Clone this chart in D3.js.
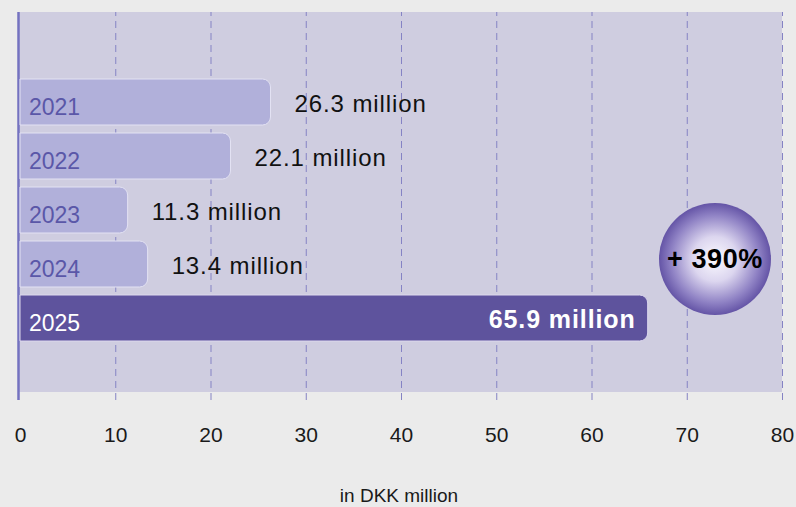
<!DOCTYPE html>
<html>
<head>
<meta charset="utf-8">
<script src="https://cdn.jsdelivr.net/npm/d3@7"></script>
<style>
  body { margin: 0; background: #ebebeb; }
  svg { display: block; font-family: "Liberation Sans", Arial, Helvetica, sans-serif; }
</style>
</head>
<body>
<div id="chart"></div>
<script>
// Chart data
const years = ['2021', '2022', '2023', '2024', '2025'];
const values = [26.3, 22.1, 11.3, 13.4, 65.9];
const valueLabels = ['26.3 million', '22.1 million', '11.3 million', '13.4 million', '65.9 million'];
const xTicks = [0, 10, 20, 30, 40, 50, 60, 70, 80];
const growthLabel = '+ 390%';
const axisTitle = 'in DKK million';

const width = 796;
const height = 507;
const panelTop = 12;
const panelBottom = 392;
const axisY = 400;

const svg = d3.select('#chart').append('svg')
    .attr('width', width)
    .attr('height', height);

const x = d3.scaleLinear().domain([0, 80]).range([20, 782]);
const y = d3.scaleBand().domain(years).range([75, 345])
    .paddingInner(8 / 54).paddingOuter(4 / 54);

// Radial gradient for the growth bubble
const defs = svg.append('defs');
const grad = defs.append('radialGradient').attr('id', 'bubble')
    .attr('cx', '50%').attr('cy', '50%').attr('r', '50%');
grad.append('stop').attr('offset', '0%').attr('stop-color', '#fbfaff');
grad.append('stop').attr('offset', '40%').attr('stop-color', '#dcd6ef');
grad.append('stop').attr('offset', '78%').attr('stop-color', '#9083c5');
grad.append('stop').attr('offset', '100%').attr('stop-color', '#6454a6');

// Plot panel
svg.append('rect')
    .attr('x', 18).attr('y', panelTop)
    .attr('width', x(80) - 18).attr('height', panelBottom - panelTop)
    .attr('fill', '#cfcde0');

// Axis + dashed grid
const axis = d3.axisBottom(x)
    .tickValues(xTicks)
    .tickSize(-(axisY - panelTop))
    .tickPadding(27)
    .tickFormat(d3.format('d'));

const axisG = svg.append('g')
    .attr('transform', `translate(0,${axisY})`)
    .call(axis);
axisG.select('.domain').remove();
axisG.selectAll('.tick line')
    .attr('stroke', '#8583c4')
    .attr('stroke-width', 1)
    .attr('stroke-dasharray', '7,5');
axisG.selectAll('.tick text')
    .attr('fill', '#1a1a1a')
    .style('font-size', '21px')
    .style('font-family', '"Liberation Sans", Arial, sans-serif');

// zero line is the solid left axis
axisG.selectAll('.tick').filter(d => d === 0).select('line')
    .attr('x1', -2).attr('x2', -2)
    .attr('stroke', '#7472c0')
    .attr('stroke-width', 2.5)
    .attr('stroke-dasharray', null);

// Bars, rounded on the right end only
function barPath(x0, y0, w, h, r) {
    const p = d3.path();
    p.moveTo(x0, y0);
    p.lineTo(x0 + w - r, y0);
    p.arcTo(x0 + w, y0, x0 + w, y0 + r, r);
    p.lineTo(x0 + w, y0 + h - r);
    p.arcTo(x0 + w, y0 + h, x0 + w - r, y0 + h, r);
    p.lineTo(x0, y0 + h);
    p.closePath();
    return p.toString();
}

const rows = years.map((yr, i) => ({ year: yr, value: values[i], label: valueLabels[i], last: i === years.length - 1 }));

const barG = svg.append('g');
barG.selectAll('path.bar')
    .data(rows)
    .enter().append('path')
    .attr('class', 'bar')
    .attr('d', d => barPath(x(0), y(d.year), x(d.value) - x(0), y.bandwidth(), 8))
    .attr('fill', d => d.last ? '#5e539d' : '#b1b0da')
    .attr('stroke', d => d.last ? '#ddd9ee' : '#e3e2f3')
    .attr('stroke-width', 1);

// Year labels inside bars
barG.selectAll('text.year')
    .data(rows)
    .enter().append('text')
    .attr('class', 'year')
    .attr('x', 29)
    .attr('y', d => y(d.year) + y.bandwidth() / 2 + 13)
    .attr('fill', d => d.last ? '#ffffff' : '#5a57a8')
    .style('font-size', '23px')
    .text(d => d.year);

// Value labels
barG.selectAll('text.value')
    .data(rows)
    .enter().append('text')
    .attr('class', 'value')
    .attr('x', d => d.last ? x(d.value) - 12 : x(d.value) + 24)
    .attr('y', d => y(d.year) + y.bandwidth() / 2 + 10)
    .attr('text-anchor', d => d.last ? 'end' : 'start')
    .attr('fill', d => d.last ? '#ffffff' : '#111111')
    .style('font-size', d => d.last ? '25px' : '24px')
    .style('font-weight', d => d.last ? 'bold' : 'normal')
    .style('letter-spacing', '0.9px')
    .text(d => d.label);

// Growth bubble
const bubble = svg.append('g').attr('transform', 'translate(715,259)');
bubble.append('circle')
    .attr('r', 56)
    .attr('fill', 'url(#bubble)');
bubble.append('text')
    .attr('text-anchor', 'middle')
    .attr('y', 9)
    .attr('fill', '#000')
    .style('font-size', '27px')
    .style('font-weight', 'bold')
    .style('letter-spacing', '0.6px')
    .text(growthLabel);

// Axis title
svg.append('text')
    .attr('x', 399)
    .attr('y', 502)
    .attr('text-anchor', 'middle')
    .attr('fill', '#1a1a1a')
    .style('font-size', '19px')
    .text(axisTitle);
</script>
</body>
</html>
